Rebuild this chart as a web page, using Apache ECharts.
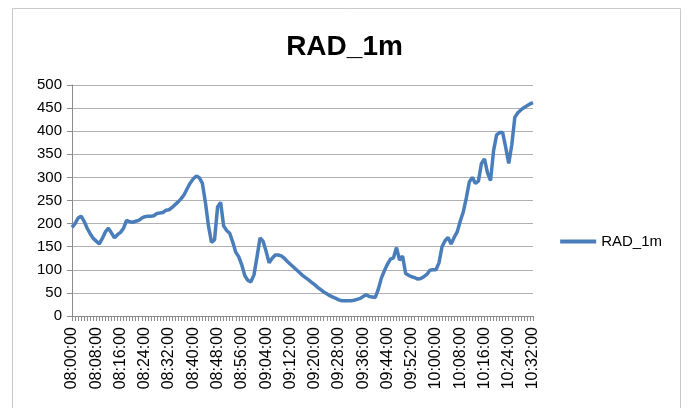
<!DOCTYPE html>
<html>
<head>
<meta charset="utf-8">
<script src="https://cdn.jsdelivr.net/npm/echarts@6/dist/echarts.min.js"></script>
<style>
html,body{margin:0;padding:0;background:#fff;}
#c{width:689px;height:408px;}
</style>
</head>
<body>
<div id="c"></div>
<script>
const seriesName = 'RAD_1m';
const startMinute = 8 * 60;
const minuteCount = 153;
const radValues = [
192,200,212,216,205,190,178,168,162,156,
168,182,190,180,169,176,181,190,207,204,
203,205,207,212,215,216,216,217,222,223,
224,229,230,235,241,247,254,263,276,288,
297,303,299,287,245,195,159,165,236,246,
195,185,179,160,138,128,110,87,77,74,
89,128,169,162,140,115,125,132,132,130,
125,118,112,106,100,94,88,83,78,73,
68,62,57,52,48,44,41,38,35,33,
33,33,33,34,36,38,42,46,42,41,
40,58,82,98,112,123,126,148,121,130,
92,88,85,83,80,81,85,90,99,100,
100,115,150,163,170,156,170,182,205,225,
255,290,300,287,292,330,340,310,293,358,
392,397,397,365,330,370,430,440,446,451,
455,459,462
];
const yTicks = [0,50,100,150,200,250,300,350,400,450,500];

function pad(n){return (n<10?'0':'')+n;}
const categories = [];
for (let i = 0; i < minuteCount; i++) {
  const t = startMinute + i;
  categories.push(pad(Math.floor(t/60)) + ':' + pad(t%60) + ':00');
}

const chart = echarts.init(document.getElementById('c'));
chart.setOption({
  animation: false,
  backgroundColor: '#fff',
  title: {
    text: seriesName,
    left: 'center',
    top: 28,
    textStyle: {fontFamily: 'Liberation Sans', fontWeight: 'bold', fontSize: 28, color: '#000'}
  },
  legend: {
    data: [{name: seriesName, icon: 'rect'}],
    right: 22,
    top: 229,
    itemWidth: 36,
    itemHeight: 4,
    itemGap: 4,
    textStyle: {fontFamily: 'Liberation Sans', fontSize: 15, color: '#000'}
  },
  grid: {left: 72, right: 156, top: 85, bottom: 92},
  xAxis: {
    type: 'category',
    boundaryGap: false,
    data: categories,
    axisLine: {lineStyle: {color: '#8c8c8c'}},
    axisTick: {interval: 0, length: 5, lineStyle: {color: '#8c8c8c'}},
    axisLabel: {interval: 7, rotate: 90, fontFamily: 'Liberation Sans', fontSize: 16, color: '#000', margin: 11},
    splitLine: {show: false}
  },
  yAxis: {
    type: 'value',
    min: yTicks[0],
    max: yTicks[yTicks.length-1],
    interval: 50,
    axisLine: {show: true, lineStyle: {color: '#8c8c8c'}},
    axisTick: {show: true, length: 5, lineStyle: {color: '#8c8c8c'}},
    axisLabel: {fontFamily: 'Liberation Sans', fontSize: 15, color: '#000', margin: 10},
    splitLine: {lineStyle: {color: '#b0b0b0', width: 1}}
  },
  graphic: [{
    type: 'rect',
    shape: {x: 12.5, y: 8.5, width: 668, height: 420},
    style: {fill: 'none', stroke: '#c8c8c8', lineWidth: 1},
    silent: true, z: -1
  }],
  series: [{
    name: seriesName,
    type: 'line',
    data: radValues,
    symbol: 'none',
    smooth: false,
    lineStyle: {color: '#4a7ebb', width: 3.5},
    itemStyle: {color: '#4a7ebb'}
  }]
});
</script>
</body>
</html>
